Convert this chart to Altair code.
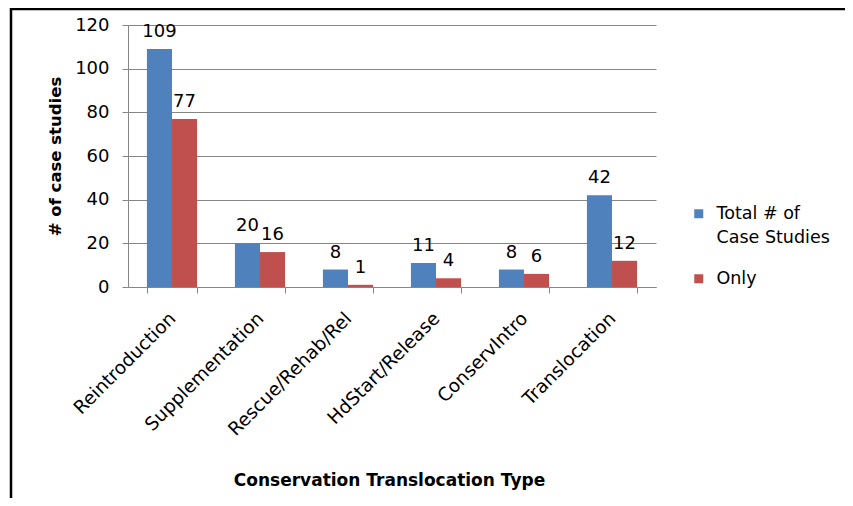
import altair as alt
import pandas as pd

categories = ["Reintroduction", "Supplementation", "Rescue/Rehab/Rel",
              "HdStart/Release", "ConservIntro", "Translocation"]
series_names = ["Total # of Case Studies", "Only"]
total_values = [109, 20, 8, 11, 8, 42]
only_values = [77, 16, 1, 4, 6, 12]
colors = ["#4F81BD", "#C0504D"]
y_ticks = [0, 20, 40, 60, 80, 100, 120]

rows = []
for c, t, o in zip(categories, total_values, only_values):
    rows.append({"type": c, "series": series_names[0], "count": t})
    rows.append({"type": c, "series": series_names[1], "count": o})
df = pd.DataFrame(rows)

FONT = "DejaVu Sans"
GRAY = "#868686"

x_enc = alt.X(
    "type:N", sort=categories, title="Conservation Translocation Type",
    scale=alt.Scale(paddingInner=0.43, paddingOuter=0.215),
    axis=alt.Axis(
        labelAngle=-45, labelAlign="right", labelBaseline="middle",
        labelPadding=22, tickSize=6, tickBand="extent",
        domainColor=GRAY, tickColor=GRAY, labelFont=FONT, labelFontSize=18.5,
        labelColor="black", titleFont=FONT, titleFontSize=17,
        titleFontWeight="bold", titleColor="black", titleX=261, titleY=198,
        titleBaseline="alphabetic", titleAlign="center", grid=False,
    ),
)
y_enc = alt.Y(
    "count:Q", title="# of case studies",
    scale=alt.Scale(domain=[0, 120], nice=False),
    axis=alt.Axis(
        values=y_ticks, tickSize=6, labelPadding=13, grid=True,
        gridColor=GRAY, domainColor=GRAY, tickColor=GRAY,
        labelFont=FONT, labelFontSize=18, labelColor="black",
        titleFont=FONT, titleFontSize=16.5, titleFontWeight="bold",
        titleColor="black", titleX=-68, titleY=131, titleAlign="center",
        titleBaseline="alphabetic", titleAngle=270,
    ),
)
color_enc = alt.Color(
    "series:N", sort=series_names,
    scale=alt.Scale(domain=series_names, range=colors),
    legend=alt.Legend(
        title=None, orient="none", legendX=562, legendY=180,
        symbolType="square", symbolSize=81, symbolStrokeWidth=0,
        labelFont=FONT, labelFontSize=17.5, labelColor="black",
        labelOffset=9, rowPadding=22, padding=0, labelLimit=300,
        labelExpr="datum.label == 'Total # of Case Studies' ? ['Total # of', 'Case Studies'] : datum.label",
    ),
)

base = alt.Chart(df)
bars = base.mark_bar().encode(
    x=x_enc, y=y_enc, xOffset=alt.XOffset("series:N", sort=series_names),
    color=color_enc,
)
labels = base.mark_text(
    baseline="alphabetic", dy=-12, font=FONT, fontSize=18, color="black"
).encode(
    x=alt.X("type:N", sort=categories),
    xOffset=alt.XOffset("series:N", sort=series_names),
    y="count:Q", text="count:Q",
)
frame = alt.Chart(alt.Data(values=[{}])).mark_rect(
    fillOpacity=0, stroke="black", strokeWidth=2.5
).encode(
    x=alt.value(-117), x2=alt.value(1200), y=alt.value(-16), y2=alt.value(1200)
)

chart = alt.layer(bars, labels, frame).properties(
    width=528, height=262,
    autosize=alt.AutoSizeParams(type="none"),
    padding={"left": 120, "top": 17, "right": 189, "bottom": 211},
).configure(
    view={"stroke": "transparent"},
    style={"guide-label": {"lineHeight": 24}},
)

chart.save("out.html", embed_options={"renderer": "svg", "actions": False})
